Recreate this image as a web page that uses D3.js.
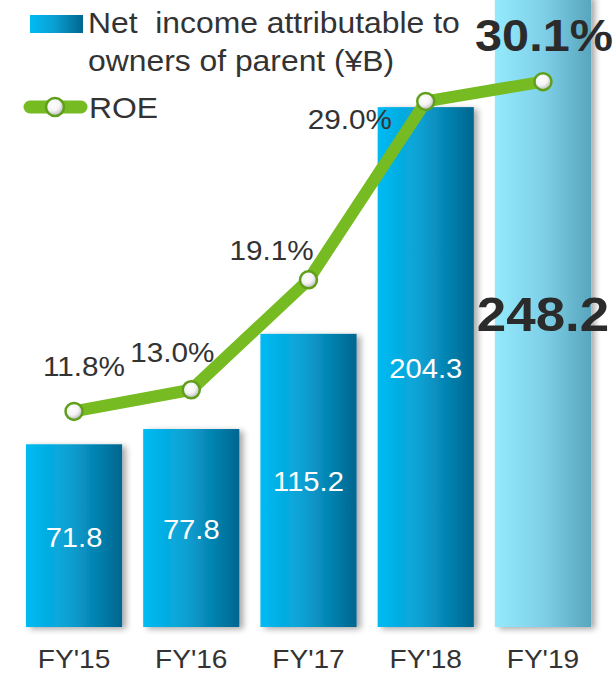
<!DOCTYPE html>
<html><head><meta charset="utf-8">
<script src="https://cdn.jsdelivr.net/npm/d3@7"></script>
<style>body{margin:0;background:#fff}svg{display:block}text{white-space:pre}</style>
</head><body>
<script>
const categories = ["FY'15","FY'16","FY'17","FY'18","FY'19"];
const netIncome = [71.8, 77.8, 115.2, 204.3, 248.2];
const roe = [11.8, 13.0, 19.1, 29.0, 30.1];
const incomeLabels = ["71.8","77.8","115.2","204.3","248.2"];
const roeLabels = ["11.8%","13.0%","19.1%","29.0%","30.1%"];
const legendIncome = ["Net  income attributable to", "owners of parent (\u00a5B)"];
const legendRoe = "ROE";

const W = 615, H = 673;
const svg = d3.select("body").append("svg").attr("width", W).attr("height", H);
const defs = svg.append("defs");

const g1 = defs.append("linearGradient").attr("id","barG");
g1.append("stop").attr("offset","0%").attr("stop-color","#00bbf3");
g1.append("stop").attr("offset","45%").attr("stop-color","#0aa0d2");
g1.append("stop").attr("offset","100%").attr("stop-color","#00668f");
const g2 = defs.append("linearGradient").attr("id","barH");
g2.append("stop").attr("offset","0%").attr("stop-color","#94eafc");
g2.append("stop").attr("offset","50%").attr("stop-color","#7ed0e8");
g2.append("stop").attr("offset","100%").attr("stop-color","#58a6bd");
const rg = defs.append("radialGradient").attr("id","mk").attr("cx","40%").attr("cy","35%").attr("r","65%");
rg.append("stop").attr("offset","0%").attr("stop-color","#ffffff");
rg.append("stop").attr("offset","55%").attr("stop-color","#f4f4f4");
rg.append("stop").attr("offset","100%").attr("stop-color","#b8b8b8");
const sh = defs.append("filter").attr("id","sh").attr("x","-10%").attr("y","-10%").attr("width","130%").attr("height","120%");
sh.append("feGaussianBlur").attr("in","SourceAlpha").attr("stdDeviation",3).attr("result","b");
sh.append("feOffset").attr("in","b").attr("dx",4).attr("dy",2).attr("result","o");
sh.append("feComponentTransfer").attr("in","o").attr("result","o2").append("feFuncA").attr("type","linear").attr("slope",0.35);
const mg = sh.append("feMerge"); mg.append("feMergeNode").attr("in","o2"); mg.append("feMergeNode").attr("in","SourceGraphic");

const x = d3.scalePoint().domain(categories).range([15.4, 601.6]).padding(0.5);
const bw = x.step() * 0.82;
const y = d3.scaleLinear().domain([0, 246.4]).range([627, 0]);
const yr = d3.scaleLinear().domain([0, 34.63]).range([624, 0]);

const font = "Liberation Sans, Arial, sans-serif";
const sx = 1.08;
function txt(parent, t, px, py, size, opts={}) {
  return parent.append("text")
    .attr("transform", `translate(${px},${py}) scale(${sx},1)`)
    .attr("text-anchor", opts.anchor || "middle")
    .attr("font-family", font).attr("font-size", size)
    .attr("font-weight", opts.bold ? "bold" : "normal")
    .attr("fill", opts.fill || "#333333").text(t);
}

// bars
svg.append("g").selectAll("rect").data(netIncome).join("rect")
  .attr("x", (d,i) => x(categories[i]) - bw/2)
  .attr("width", bw)
  .attr("y", d => y(d))
  .attr("height", d => y(0) - y(d))
  .attr("fill", (d,i) => i === 4 ? "url(#barH)" : "url(#barG)")
  .attr("filter","url(#sh)");

// bar labels
const bl = svg.append("g");
netIncome.forEach((d,i) => {
  const mid = (y(d) + y(0)) / 2;
  if (i === 4) txt(bl, incomeLabels[i], x(categories[i]), mid + 20, 49, {bold:true, fill:"#2b2b2b"});
  else txt(bl, incomeLabels[i], x(categories[i]), mid + 11, 27, {fill:"#ffffff"});
});

// x labels
const xl = svg.append("g");
categories.forEach(c => txt(xl, c, x(c), 668, 26, {fill:"#333"}));

// ROE line
const pts = roe.map((v,i) => [x(categories[i]), yr(v)]);
svg.append("path").attr("d", d3.line()(pts)).attr("fill","none")
  .attr("stroke","#76bb22").attr("stroke-width",12).attr("stroke-linejoin","round");
svg.append("g").selectAll("circle").data(pts).join("circle")
  .attr("cx", d => d[0]).attr("cy", d => d[1]).attr("r", 8.5)
  .attr("fill","url(#mk)").attr("stroke","#5f9f1a").attr("stroke-width",2.5);

// ROE labels
const roeDx = [10, -19, -37, -76, 1];
const roeDy = [-35, -28, -20, 28, -31];
const rl = svg.append("g");
roe.forEach((v,i) => {
  const p = pts[i];
  if (i === 4) txt(rl, roeLabels[i], p[0] + roeDx[i], p[1] + roeDy[i], 45, {bold:true, fill:"#2b2b2b"});
  else txt(rl, roeLabels[i], p[0] + roeDx[i], p[1] + roeDy[i], 27.5, {fill:"#333"});
});

// legend
const lg = svg.append("g");
lg.append("rect").attr("x",30).attr("y",15).attr("width",53).attr("height",18).attr("fill","url(#barG)");
txt(lg, legendIncome[0], 88, 33, 29.5, {anchor:"start", fill:"#333"});
txt(lg, legendIncome[1], 88, 71, 29.5, {anchor:"start", fill:"#333"});
lg.append("line").attr("x1",30).attr("x2",81).attr("y1",107).attr("y2",107)
  .attr("stroke","#76bb22").attr("stroke-width",13).attr("stroke-linecap","round");
lg.append("circle").attr("cx",55).attr("cy",107).attr("r",9)
  .attr("fill","url(#mk)").attr("stroke","#5f9f1a").attr("stroke-width",2.5);
txt(lg, legendRoe, 89, 118, 29.5, {anchor:"start", fill:"#333"});
</script>
</body></html>
